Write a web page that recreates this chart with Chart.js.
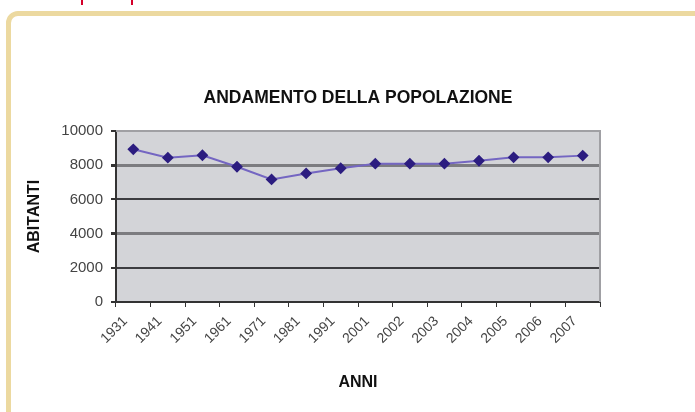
<!DOCTYPE html>
<html>
<head>
<meta charset="utf-8">
<script src="https://cdn.jsdelivr.net/npm/chart.js@4/dist/chart.umd.min.js"></script>
<style>
  html, body { margin:0; padding:0; background:#fff; width:695px; height:412px; overflow:hidden; }
  #frame { position:absolute; left:6px; top:11px; width:720px; height:440px; border:5px solid #ecd9a0; border-radius:12px; box-sizing:border-box; }
  .red { position:absolute; top:0; width:2px; height:5px; background:#d4002a; }
  #wrap { position:absolute; left:0; top:0; width:695px; height:412px; }
</style>
</head>
<body>
<div id="frame"></div>
<div class="red" style="left:81px"></div>
<div class="red" style="left:131px"></div>
<div id="wrap"><canvas id="c" width="695" height="412"></canvas></div>
<script>
const years = ["1931","1941","1951","1961","1971","1981","1991","2001","2002","2003","2004","2005","2006","2007"];
const abitanti = [8930, 8440, 8580, 7910, 7170, 7520, 7820, 8090, 8090, 8090, 8260, 8460, 8460, 8560];
const yTicks = [0, 2000, 4000, 6000, 8000, 10000];
const chartTitle = "ANDAMENTO DELLA POPOLAZIONE";
const xTitle = "ANNI";
const yTitle = "ABITANTI";

const areaPlugin = {
  id: 'area',
  beforeDraw(chart) {
    const {ctx, chartArea: a} = chart;
    ctx.save();
    ctx.fillStyle = '#d3d4d8';
    ctx.fillRect(a.left, a.top, a.right - a.left, a.bottom - a.top);
    ctx.restore();
  },
  afterDraw(chart) {
    const {ctx, chartArea: a} = chart;
    ctx.save();
    ctx.strokeStyle = '#a0a0a4';
    ctx.lineWidth = 2;
    ctx.beginPath();
    ctx.moveTo(a.left, a.top);
    ctx.lineTo(a.right, a.top);
    ctx.lineTo(a.right, a.bottom);
    ctx.stroke();
    ctx.restore();
  }
};

Chart.defaults.font.family = "'Liberation Sans', Arial, sans-serif";
Chart.defaults.color = '#333';

new Chart(document.getElementById('c'), {
  type: 'line',
  data: {
    labels: years,
    datasets: [{
      data: abitanti,
      borderColor: '#7466c2',
      borderWidth: 2,
      pointStyle: 'rectRot',
      pointRadius: 4.5,
      pointBackgroundColor: '#2c1d80',
      pointBorderColor: '#2c1d80',
      tension: 0
    }]
  },
  options: {
    responsive: false,
    animation: false,
    layout: { padding: { left: 25, right: 95, top: 0, bottom: 15 } },
    plugins: {
      legend: { display: false },
      tooltip: { enabled: false },
      title: {
        display: true,
        fullSize: false,
        text: chartTitle,
        color: '#111',
        font: { size: 17.5, weight: 'bold' },
        padding: { top: 88, bottom: 22 }
      }
    },
    scales: {
      x: {
        offset: true,
        grid: { display: true, drawOnChartArea: false, drawTicks: true, tickLength: 5, tickColor: '#333', offset: true },
        border: { display: true, color: '#333', width: 2 },
        ticks: { maxRotation: 45, minRotation: 45, autoSkip: false, padding: 6, labelOffset: -8, color: '#444', font: { size: 14 } },
        title: { display: true, text: xTitle, color: '#111', font: { size: 16, weight: 'bold' }, padding: { top: 0, bottom: 5 } },
        afterFit(scale) { scale.height = 95; }
      },
      y: {
        min: 0, max: 10000,
        afterBuildTicks(scale) { scale.ticks = yTicks.map(v => ({ value: v })); },
        grid: {
          color: ctx => (ctx.tick && (ctx.tick.value === 8000 || ctx.tick.value === 4000)) ? '#7c7c80' : (ctx.tick && ctx.tick.value === 10000 ? 'rgba(0,0,0,0)' : '#3c3c40'),
          lineWidth: ctx => (ctx.tick && (ctx.tick.value === 8000 || ctx.tick.value === 4000)) ? 3 : 2,
          tickColor: '#333',
          tickLength: 5
        },
        border: { display: true, color: '#333', width: 2 },
        ticks: { padding: 8, color: '#444', font: { size: 15 }, callback: v => String(v) },
        title: { display: true, text: yTitle, color: '#111', font: { size: 16, weight: 'bold' }, padding: { top: 0, bottom: 0 } },
        afterFit(scale) { scale.width = 91; }
      }
    }
  },
  plugins: [areaPlugin]
});
</script>
</body>
</html>
